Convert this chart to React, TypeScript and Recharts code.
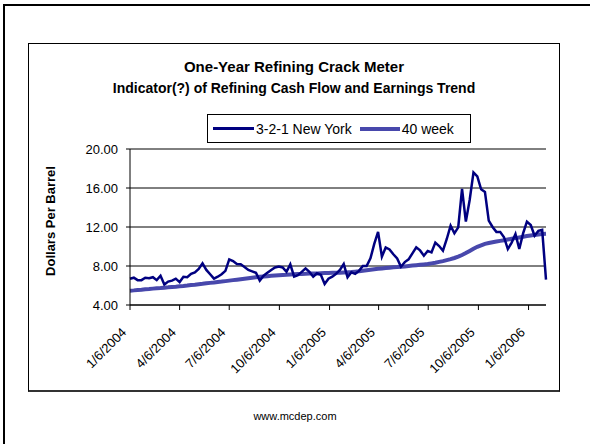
import React from "react";
import { LineChart, Line, XAxis, YAxis, CartesianGrid } from "recharts";

const FONT = "'Liberation Sans', Arial, Helvetica, sans-serif";

// weekly 3-2-1 New York crack spread, starting 1/6/2004
const newYork = [
  6.7, 6.8, 6.55, 6.55, 6.8, 6.75, 6.85, 6.55, 7.0, 6.1,
  6.4, 6.5, 6.7, 6.35, 6.9, 6.85, 7.2, 7.35, 7.7, 8.27,
  7.6, 7.15, 6.7, 6.9, 7.15, 7.5, 8.68, 8.5, 8.2, 8.17,
  7.9, 7.6, 7.45, 7.3, 6.5, 7.0, 7.3, 7.6, 7.85, 7.95,
  7.85, 7.4, 8.17, 6.9, 7.05, 7.4, 7.76, 7.4, 6.9, 7.25,
  7.1, 6.15, 6.7, 6.9, 7.2, 7.6, 8.2, 6.84, 7.35, 7.2,
  7.5, 8.0, 8.0, 8.78, 10.26, 11.5, 8.96, 9.9, 9.7, 9.2,
  8.78, 7.93, 8.4, 8.68, 9.3, 9.92, 9.6, 9.06, 9.55, 9.4,
  10.4, 10.05, 9.57, 10.77, 12.13, 11.35, 11.96, 15.9, 12.55, 14.77,
  17.6, 17.2, 15.87, 15.6, 12.65, 12.0, 11.5, 11.5, 10.95, 9.74,
  10.4, 11.28, 9.74, 11.35, 12.55, 12.2, 11.1, 11.6, 11.7, 6.6,
];

// 40 week moving average
const week40 = [
  5.47, 5.5, 5.54, 5.57, 5.61, 5.64, 5.68, 5.71, 5.74, 5.78,
  5.81, 5.85, 5.88, 5.92, 5.95, 5.99, 6.04, 6.08, 6.13, 6.17,
  6.22, 6.27, 6.31, 6.36, 6.4, 6.45, 6.5, 6.55, 6.6, 6.65,
  6.7, 6.75, 6.8, 6.85, 6.9, 6.93, 6.96, 6.99, 7.02, 7.05,
  7.08, 7.1, 7.13, 7.15, 7.18, 7.19, 7.2, 7.22, 7.23, 7.24,
  7.26, 7.27, 7.28, 7.3, 7.31, 7.32, 7.34, 7.35, 7.38, 7.42,
  7.46, 7.51, 7.56, 7.61, 7.66, 7.71, 7.75, 7.79, 7.83, 7.86,
  7.89, 7.93, 7.96, 8.0, 8.04, 8.08, 8.12, 8.16, 8.2, 8.27,
  8.34, 8.42, 8.5, 8.6, 8.7, 8.82, 8.96, 9.13, 9.33, 9.55,
  9.77, 9.97, 10.12, 10.27, 10.36, 10.44, 10.51, 10.58, 10.65, 10.72,
  10.79, 10.86, 10.93, 11.0, 11.07, 11.13, 11.19, 11.24, 11.28, 11.3,
];

const dateTicks = [
  "1/6/2004", "4/6/2004", "7/6/2004", "10/6/2004", "1/6/2005",
  "4/6/2005", "7/6/2005", "10/6/2005", "1/6/2006",
];

const yTicks = [4, 8, 12, 16, 20];

const startDate = "1/6/2004";

function toUtc(s: string) {
  const [m, d, y] = s.split("/").map(Number);
  return Date.UTC(y, m - 1, d);
}

const dayOf = (s: string) => Math.round((toUtc(s) - toUtc(startDate)) / 86400000);

const tickDays = dateTicks.map(dayOf);
const labelByDay: Record<number, string> = {};
dateTicks.forEach((t) => (labelByDay[dayOf(t)] = t));

const data = newYork.map((v, i) => ({ day: i * 7, ny: v, avg: week40[i] }));
const lastDay = (newYork.length - 1) * 7;

const DateTick = (props: any) => {
  const { x, y, payload } = props;
  const ax = x - 6;
  const ay = y + 18;
  return (
    <text
      x={ax}
      y={ay}
      transform={`rotate(-45, ${ax}, ${ay})`}
      textAnchor="end"
      dy="0.35em"
      fontSize={13}
      fontFamily={FONT}
      fill="#000"
    >
      {labelByDay[payload.value]}
    </text>
  );
};

export default function App() {
  return (
    <div
      style={{
        position: "absolute",
        left: 0,
        top: 0,
        width: 590,
        height: 444,
        overflow: "hidden",
        background: "#fff",
        fontFamily: FONT,
      }}
    >
      <div
        style={{
          position: "absolute",
          left: 3,
          top: 4,
          width: 600,
          height: 450,
          borderLeft: "2px solid #000",
          borderTop: "2px solid #000",
        }}
      />
      <div
        style={{
          position: "absolute",
          left: 28,
          top: 43,
          width: 530,
          height: 346,
          border: "1px solid #000",
          borderBottom: "2px solid #333",
        }}
      />
      <div
        style={{
          position: "absolute",
          left: 28,
          top: 57,
          width: 532,
          textAlign: "center",
          fontWeight: "bold",
        }}
      >
        <div style={{ fontSize: 15, lineHeight: "20px" }}>One-Year Refining Crack Meter</div>
        <div style={{ fontSize: 14, lineHeight: "22px" }}>
          Indicator(?) of Refining Cash Flow and Earnings Trend
        </div>
      </div>
      <div
        style={{
          position: "absolute",
          left: 207,
          top: 114,
          width: 264,
          height: 29,
          border: "1px solid #000",
          display: "flex",
          alignItems: "center",
          fontSize: 14,
          boxSizing: "border-box",
        }}
      >
        <div style={{ width: 41, height: 3, background: "#000080", marginLeft: 5 }} />
        <span style={{ marginLeft: 2 }}>3-2-1 New York</span>
        <div style={{ width: 40, height: 4, background: "#4848ac", marginLeft: 8 }} />
        <span style={{ marginLeft: 2 }}>40 week</span>
      </div>
      <div
        style={{
          position: "absolute",
          left: 50,
          top: 221,
          transform: "translate(-50%, -50%) rotate(-90deg)",
          whiteSpace: "nowrap",
          fontWeight: "bold",
          fontSize: 13,
        }}
      >
        Dollars Per Barrel
      </div>
      <div
        style={{
          position: "absolute",
          left: 0,
          top: 410,
          width: 590,
          textAlign: "center",
          fontSize: 11,
        }}
      >
        www.mcdep.com
      </div>
      <div style={{ position: "absolute", left: 0, top: 0 }}>
        <LineChart
          width={590}
          height={444}
          data={data}
          margin={{ top: 149, right: 44, bottom: 79, left: 70 }}
        >
          <CartesianGrid vertical={false} stroke="#000" strokeDasharray="" />
          <XAxis
            type="number"
            dataKey="day"
            domain={[0, lastDay]}
            ticks={tickDays}
            interval={0}
            tick={<DateTick />}
            tickSize={5}
            height={60}
            stroke="#000"
            axisLine={{ stroke: "#000" }}
            tickLine={{ stroke: "#000" }}
          />
          <YAxis
            domain={[4, 20]}
            ticks={yTicks}
            width={60}
            tickSize={4}
            tickMargin={8}
            tickFormatter={(v: number) => v.toFixed(2)}
            tick={{ fontSize: 13, fontFamily: FONT, fill: "#000" }}
            axisLine={{ stroke: "#000" }}
            tickLine={{ stroke: "#000" }}
          />
          <Line
            dataKey="avg"
            stroke="#4848ac"
            strokeWidth={4}
            dot={false}
            type="linear"
            isAnimationActive={false}
          />
          <Line
            dataKey="ny"
            stroke="#000080"
            strokeWidth={2.5}
            dot={false}
            type="linear"
            isAnimationActive={false}
          />
        </LineChart>
      </div>
    </div>
  );
}
